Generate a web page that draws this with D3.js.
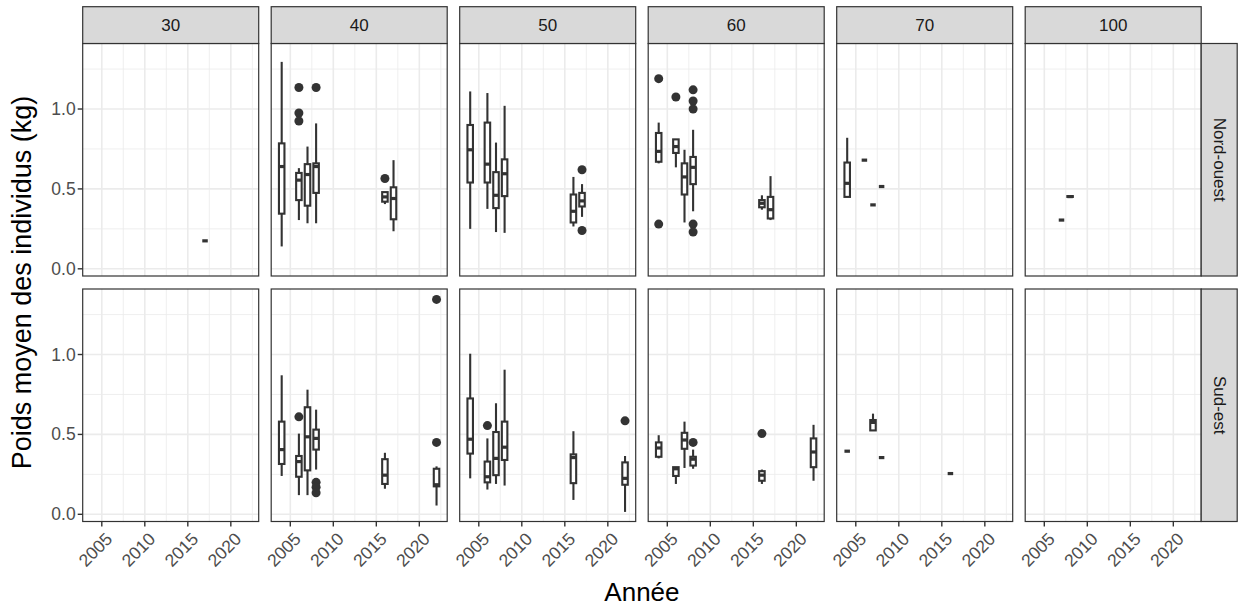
<!DOCTYPE html>
<html>
<head>
<meta charset="utf-8">
<script src="https://cdn.jsdelivr.net/npm/d3@7.9.0/dist/d3.min.js"></script>
<style>
  body { margin: 0; background: #fff; }
  svg { display: block; font-family: "Liberation Sans", Arial, sans-serif; }
</style>
</head>
<body>
<svg id="chart" width="1238" height="607"></svg>
<script>
// facets
const sizes = ['30', '40', '50', '60', '70', '100'];
const zones = ['Nord-ouest', 'Sud-est'];
const xTicks = [2005, 2010, 2015, 2020];
const xMinor = [2007.5, 2012.5, 2017.5, 2022.5];
const yTicks = [0, 0.5, 1.0];
const yMinor = [0.25, 0.75, 1.25];

// [size, year, lower whisker, q1, median, q3, upper whisker]
const boxesNordOuest = [
  ['30', 2017, 0.175, 0.175, 0.175, 0.175, 0.175],
  ['40', 2004, 0.14, 0.345, 0.64, 0.785, 1.295],
  ['40', 2006, 0.305, 0.43, 0.555, 0.60, 0.63],
  ['40', 2007, 0.285, 0.395, 0.59, 0.655, 0.765],
  ['40', 2008, 0.285, 0.475, 0.64, 0.66, 0.91],
  ['40', 2016, 0.405, 0.42, 0.45, 0.48, 0.48],
  ['40', 2017, 0.235, 0.31, 0.44, 0.51, 0.68],
  ['50', 2004, 0.25, 0.54, 0.745, 0.90, 1.11],
  ['50', 2006, 0.375, 0.54, 0.655, 0.915, 1.10],
  ['50', 2007, 0.23, 0.38, 0.46, 0.605, 0.79],
  ['50', 2008, 0.225, 0.455, 0.595, 0.685, 1.02],
  ['50', 2016, 0.265, 0.29, 0.36, 0.465, 0.575],
  ['50', 2017, 0.325, 0.39, 0.425, 0.475, 0.53],
  ['60', 2004, 0.66, 0.67, 0.735, 0.85, 0.915],
  ['60', 2006, 0.635, 0.725, 0.765, 0.81, 0.81],
  ['60', 2007, 0.29, 0.465, 0.575, 0.66, 0.745],
  ['60', 2008, 0.36, 0.53, 0.635, 0.70, 0.87],
  ['60', 2016, 0.37, 0.385, 0.41, 0.43, 0.46],
  ['60', 2017, 0.305, 0.315, 0.37, 0.45, 0.58],
  ['70', 2004, 0.45, 0.45, 0.535, 0.665, 0.82],
  ['70', 2006, 0.68, 0.68, 0.68, 0.68, 0.68],
  ['70', 2007, 0.40, 0.40, 0.40, 0.40, 0.40],
  ['70', 2008, 0.515, 0.515, 0.515, 0.515, 0.515],
  ['100', 2007, 0.305, 0.305, 0.305, 0.305, 0.305],
  ['100', 2008, 0.45, 0.45, 0.452, 0.455, 0.455]
];
// [size, year, value]
const outliersNordOuest = [
  ['40', 2006, 1.135], ['40', 2006, 0.975], ['40', 2006, 0.925],
  ['40', 2008, 1.135], ['40', 2016, 0.565],
  ['50', 2017, 0.62], ['50', 2017, 0.24],
  ['60', 2004, 1.19], ['60', 2004, 0.28], ['60', 2006, 1.075],
  ['60', 2008, 1.12], ['60', 2008, 1.05], ['60', 2008, 1.0],
  ['60', 2008, 0.28], ['60', 2008, 0.23]
];

const boxesSudEst = [
  ['40', 2004, 0.24, 0.315, 0.405, 0.58, 0.87],
  ['40', 2006, 0.12, 0.235, 0.33, 0.365, 0.505],
  ['40', 2007, 0.12, 0.275, 0.485, 0.67, 0.78],
  ['40', 2008, 0.28, 0.405, 0.475, 0.53, 0.655],
  ['40', 2016, 0.16, 0.19, 0.245, 0.345, 0.385],
  ['40', 2022, 0.055, 0.175, 0.185, 0.285, 0.30],
  ['50', 2004, 0.225, 0.38, 0.47, 0.725, 1.005],
  ['50', 2006, 0.155, 0.20, 0.235, 0.33, 0.475],
  ['50', 2007, 0.19, 0.245, 0.35, 0.515, 0.695],
  ['50', 2008, 0.18, 0.34, 0.42, 0.58, 0.905],
  ['50', 2016, 0.09, 0.195, 0.355, 0.375, 0.52],
  ['50', 2022, 0.015, 0.185, 0.225, 0.325, 0.365],
  ['60', 2004, 0.35, 0.36, 0.415, 0.45, 0.495],
  ['60', 2006, 0.19, 0.24, 0.285, 0.295, 0.295],
  ['60', 2007, 0.29, 0.41, 0.465, 0.51, 0.58],
  ['60', 2008, 0.285, 0.305, 0.345, 0.36, 0.405],
  ['60', 2016, 0.19, 0.21, 0.245, 0.27, 0.28],
  ['60', 2022, 0.21, 0.295, 0.39, 0.475, 0.56],
  ['70', 2004, 0.395, 0.395, 0.395, 0.395, 0.395],
  ['70', 2007, 0.525, 0.525, 0.575, 0.59, 0.63],
  ['70', 2008, 0.355, 0.355, 0.355, 0.355, 0.355],
  ['70', 2016, 0.255, 0.255, 0.255, 0.255, 0.255]
];
const outliersSudEst = [
  ['40', 2006, 0.61], ['40', 2008, 0.20], ['40', 2008, 0.17], ['40', 2008, 0.135],
  ['40', 2022, 1.345], ['40', 2022, 0.45],
  ['50', 2006, 0.555], ['50', 2022, 0.585],
  ['60', 2008, 0.45], ['60', 2016, 0.505]
];

const boxesByZone = { 'Nord-ouest': boxesNordOuest, 'Sud-est': boxesSudEst };
const outliersByZone = { 'Nord-ouest': outliersNordOuest, 'Sud-est': outliersSudEst };

// layout
const panelW = 176, panelH = 232.5;
const firstLeft = 82.7, colStep = 188.5;
const rowTops = [43.5, 289];
const stripTop = 6.7;
const stripW = 36;
const boxW = 0.64;
const ink = '#333333';

const svg = d3.select('#chart');

zones.forEach((zone, r) => {
  const top = rowTops[r];
  const y = d3.scaleLinear().domain([-0.045, 1.41]).range([top + panelH, top]);

  sizes.forEach((size, c) => {
    const left = firstLeft + c * colStep;
    const x = d3.scaleLinear().domain([2002.78, 2023.24]).range([left, left + panelW]);
    const g = svg.append('g');

    g.append('rect').attr('x', left).attr('y', top).attr('width', panelW).attr('height', panelH)
      .attr('fill', '#fff');

    // grid
    g.selectAll('.xminor').data(xMinor).join('line')
      .attr('x1', d => x(d)).attr('x2', d => x(d)).attr('y1', top).attr('y2', top + panelH)
      .attr('stroke', '#ebebeb').attr('stroke-width', 0.8);
    g.selectAll('.yminor').data(yMinor).join('line')
      .attr('y1', d => y(d)).attr('y2', d => y(d)).attr('x1', left).attr('x2', left + panelW)
      .attr('stroke', '#ebebeb').attr('stroke-width', 0.8);
    g.selectAll('.xmajor').data(xTicks).join('line')
      .attr('x1', d => x(d)).attr('x2', d => x(d)).attr('y1', top).attr('y2', top + panelH)
      .attr('stroke', '#ebebeb').attr('stroke-width', 1.6);
    g.selectAll('.ymajor').data(yTicks).join('line')
      .attr('y1', d => y(d)).attr('y2', d => y(d)).attr('x1', left).attr('x2', left + panelW)
      .attr('stroke', '#ebebeb').attr('stroke-width', 1.6);

    // boxplots
    const boxes = boxesByZone[zone].filter(b => b[0] === size);
    boxes.forEach(([, yr, lo, q1, med, q3, hi]) => {
      const cx = x(yr);
      g.append('line').attr('x1', cx).attr('x2', cx).attr('y1', y(hi)).attr('y2', y(q3))
        .attr('stroke', ink).attr('stroke-width', 2.1);
      g.append('line').attr('x1', cx).attr('x2', cx).attr('y1', y(q1)).attr('y2', y(lo))
        .attr('stroke', ink).attr('stroke-width', 2.1);
      g.append('rect')
        .attr('x', x(yr - boxW / 2)).attr('width', x(yr + boxW / 2) - x(yr - boxW / 2))
        .attr('y', y(q3)).attr('height', Math.max(0, y(q1) - y(q3)))
        .attr('fill', '#fff').attr('stroke', ink).attr('stroke-width', 2.1);
      g.append('line')
        .attr('x1', x(yr - boxW / 2)).attr('x2', x(yr + boxW / 2))
        .attr('y1', y(med)).attr('y2', y(med))
        .attr('stroke', ink).attr('stroke-width', 3.2);
    });

    const pts = outliersByZone[zone].filter(o => o[0] === size);
    g.selectAll('circle').data(pts).join('circle')
      .attr('cx', d => x(d[1])).attr('cy', d => y(d[2])).attr('r', 4.5)
      .attr('fill', ink);

    g.append('rect').attr('x', left).attr('y', top).attr('width', panelW).attr('height', panelH)
      .attr('fill', 'none').attr('stroke', ink).attr('stroke-width', 1.2);

    // top strips
    if (r === 0) {
      svg.append('rect').attr('x', left).attr('y', stripTop).attr('width', panelW)
        .attr('height', top - stripTop).attr('fill', '#d9d9d9')
        .attr('stroke', ink).attr('stroke-width', 1.2);
      svg.append('text').attr('x', left + panelW / 2).attr('y', (stripTop + top) / 2)
        .attr('text-anchor', 'middle').attr('dominant-baseline', 'central')
        .attr('font-size', 17).attr('fill', '#1a1a1a').text(size);
    }

    // x axis on bottom row
    if (r === zones.length - 1) {
      const bottom = top + panelH;
      svg.append('g').selectAll('line').data(xTicks).join('line')
        .attr('x1', d => x(d)).attr('x2', d => x(d)).attr('y1', bottom).attr('y2', bottom + 5)
        .attr('stroke', ink).attr('stroke-width', 1.4);
      svg.append('g').selectAll('text').data(xTicks).join('text')
        .attr('transform', d => `translate(${x(d) + 3},${bottom + 10}) rotate(-45)`)
        .attr('text-anchor', 'end').attr('dy', '0.7em')
        .attr('font-size', 17.5).attr('fill', '#4d4d4d').text(d => d);
    }

    // y axis on first column
    if (c === 0) {
      svg.append('g').selectAll('line').data(yTicks).join('line')
        .attr('x1', left - 5).attr('x2', left).attr('y1', d => y(d)).attr('y2', d => y(d))
        .attr('stroke', ink).attr('stroke-width', 1.4);
      svg.append('g').selectAll('text').data(yTicks).join('text')
        .attr('x', left - 7).attr('y', d => y(d)).attr('text-anchor', 'end')
        .attr('dominant-baseline', 'central')
        .attr('font-size', 17.5).attr('fill', '#4d4d4d').text(d => d3.format('.1f')(d));
    }
  });

  // right strip
  const sx = firstLeft + (sizes.length - 1) * colStep + panelW;
  svg.append('rect').attr('x', sx).attr('y', top).attr('width', stripW).attr('height', panelH)
    .attr('fill', '#d9d9d9').attr('stroke', ink).attr('stroke-width', 1.2);
  svg.append('text')
    .attr('transform', `translate(${sx + stripW / 2},${top + panelH / 2}) rotate(90)`)
    .attr('text-anchor', 'middle').attr('dominant-baseline', 'central')
    .attr('font-size', 17).attr('fill', '#1a1a1a').text(zone);
});

// axis titles
const plotLeft = firstLeft, plotRight = firstLeft + (sizes.length - 1) * colStep + panelW;
svg.append('text').attr('x', (plotLeft + plotRight) / 2).attr('y', 601)
  .attr('text-anchor', 'middle').attr('font-size', 26).attr('fill', '#000').text('Année');
svg.append('text')
  .attr('transform', `translate(31,${(rowTops[0] + rowTops[1] + panelH) / 2}) rotate(-90)`)
  .attr('text-anchor', 'middle').attr('font-size', 27).attr('fill', '#000')
  .text('Poids moyen des individus (kg)');
</script>
</body>
</html>
